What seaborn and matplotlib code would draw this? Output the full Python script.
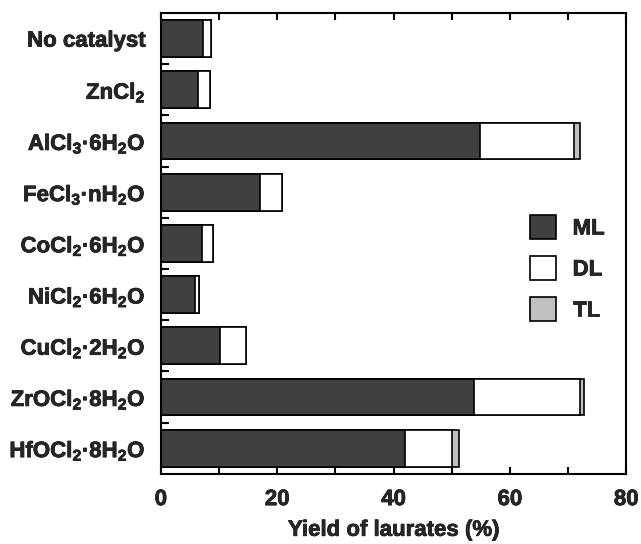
import numpy as np
import pandas as pd
import matplotlib
matplotlib.use("Agg")
import matplotlib.pyplot as plt
import matplotlib.patheffects as pe
import seaborn as sns
from matplotlib.patches import Patch
from matplotlib.ticker import MultipleLocator, FixedLocator

catalysts = ["No catalyst", "ZnCl$_2$", "AlCl$_3$·6H$_2$O", "FeCl$_3$·nH$_2$O",
             "CoCl$_2$·6H$_2$O", "NiCl$_2$·6H$_2$O", "CuCl$_2$·2H$_2$O",
             "ZrOCl$_2$·8H$_2$O", "HfOCl$_2$·8H$_2$O"]
ML = [7.2, 6.3, 54.9, 17.0, 7.0, 5.9, 10.2, 53.8, 42.0]
DL = [1.5, 2.2, 16.2, 3.9, 1.9, 0.6, 4.5, 18.3, 8.0]
TL = [0.0, 0.0, 1.0, 0.0, 0.0, 0.1, 0.0, 0.6, 1.2]
series = ["ML", "DL", "TL"]
colors = {"ML": "#404040", "DL": "#ffffff", "TL": "#c0c0c0"}

sns.set_theme(style="white")
plt.rcParams["font.family"] = ["Liberation Sans", "DejaVu Sans"]
plt.rcParams["font.weight"] = "bold"
plt.rcParams["mathtext.fontset"] = "custom"
plt.rcParams["mathtext.rm"] = "Liberation Sans:bold"
plt.rcParams["mathtext.it"] = "Liberation Sans:bold"
plt.rcParams["mathtext.bf"] = "Liberation Sans:bold"

df = pd.DataFrame({"cat": catalysts, "ML": ML, "DL": DL, "TL": TL})
df["ML+DL"] = df["ML"] + df["DL"]
df["Total"] = df["ML+DL"] + df["TL"]

fig = plt.figure(figsize=(6.41, 5.44), dpi=100)
ax = fig.add_axes([0.251, 0.129, 0.726, 0.847])

bw = 0.72
for col, s in [("Total", "TL"), ("ML+DL", "DL"), ("ML", "ML")]:
    sns.barplot(data=df, x=col, y="cat", orient="h", color=colors[s],
                edgecolor="black", linewidth=1.2, width=bw, saturation=1, ax=ax)

fs = 16
stroke = [pe.withStroke(linewidth=0.5, foreground="black")]

ax.set_xlim(0, 80)
ax.set_ylim(8.5, -0.5)
ax.xaxis.set_major_locator(MultipleLocator(20))
ax.xaxis.set_minor_locator(MultipleLocator(10))
ax.yaxis.set_minor_locator(FixedLocator(np.arange(0.5, 8, 1.0)))
ax.tick_params(axis="x", which="both", direction="in", top=True, bottom=True,
               length=5, width=1.5, labelsize=fs, pad=11, color="black")
ax.tick_params(axis="y", which="major", length=0, labelsize=fs, pad=11)
ax.tick_params(axis="y", which="minor", direction="in", left=True, length=6,
               width=1.5, color="black")
for lbl in ax.get_xticklabels() + ax.get_yticklabels():
    lbl.set_fontweight("bold")
    lbl.set_path_effects(stroke)
for sp in ax.spines.values():
    sp.set_linewidth(1.5)
    sp.set_color("black")

ax.set_xlabel("Yield of laurates (%)", fontsize=fs, fontweight="bold", labelpad=7,
              path_effects=stroke)
ax.set_ylabel("")

handles = [Patch(facecolor=colors[s], edgecolor="black", linewidth=1.2, label=s) for s in series]
leg = ax.legend(handles=handles, loc="upper left", bbox_to_anchor=(0.794, 0.562),
                frameon=False, fontsize=fs, handlelength=1.15, handleheight=1.3,
                labelspacing=0.74, handletextpad=0.75, borderpad=0, borderaxespad=0)
for t in leg.get_texts():
    t.set_fontweight("bold")
    t.set_path_effects(stroke)

fig.savefig("out.png", dpi=100)
